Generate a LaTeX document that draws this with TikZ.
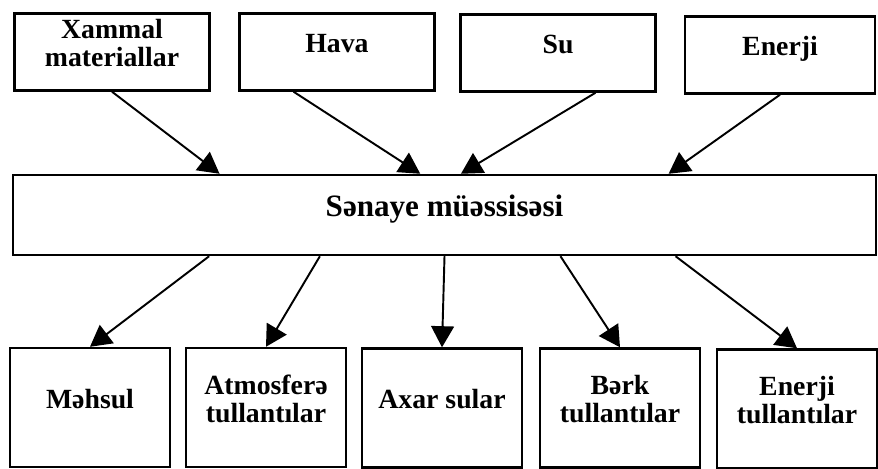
\documentclass[tikz,border=0pt]{standalone}
\usepackage{fontspec}
\setmainfont{Liberation Serif}
\usetikzlibrary{arrows.meta,calc}
\begin{document}
\begin{tikzpicture}[x=.02cm,y=-.02cm,
  box/.style={draw,line width=1.4pt,align=center,inner sep=2pt,
    font=\bfseries\fontsize{15.8}{16}\selectfont,
    execute at end node={\rule[-.36cm]{0pt}{0pt}}},
  inbox/.style={box,minimum width=3.9cm,minimum height=1.54cm},
  outbox/.style={box,minimum width=3.2cm,minimum height=2.38cm},
  arr/.style={line width=1.1pt,-{Triangle[length=12pt,width=13pt]}}]
\useasboundingbox (0,0) rectangle (878,469);

\node[inbox] (xammal) at (112,52){Xammal\\materiallar};
\node[inbox] (hava) at (337,52){Hava};
\node[inbox] (su) at (558,53){Su};
\node[inbox,minimum width=3.8cm] (enerji) at (780,55){Enerji};

\node[box,minimum width=17.26cm,minimum height=1.6cm,
  font=\bfseries\fontsize{17.7}{18}\selectfont] (sanaye) at (444.5,215){Sənaye müəssisəsi};

\node[outbox] (mehsul) at (90,407.5){Məhsul};
\node[outbox] (atmosfer) at (266,407.5){Atmosferə\\tullantılar};
\node[outbox] (axar) at (442,408){Axar sular};
\node[outbox] (berk) at (620,408){Bərk\\tullantılar};
\node[outbox] (enerjit) at (797,409){Enerji\\tullantılar};

\draw[arr] (xammal.south) -- ($(sanaye.north west)!.24!(sanaye.north east)$);
\draw[arr] ($(hava.south west)!.28!(hava.south east)$) -- ($(sanaye.north west)!.472!(sanaye.north east)$);
\draw[arr] ($(su.south west)!.69!(su.south east)$) -- ($(sanaye.north west)!.519!(sanaye.north east)$);
\draw[arr] (enerji.south) -- ($(sanaye.north west)!.759!(sanaye.north east)$);

\draw[arr] ($(sanaye.south west)!.228!(sanaye.south east)$) -- (mehsul.north);
\draw[arr] ($(sanaye.south west)!.356!(sanaye.south east)$) -- (atmosfer.north);
\draw[arr] (sanaye.south) -- (axar.north);
\draw[arr] ($(sanaye.south west)!.634!(sanaye.south east)$) -- (berk.north);
\draw[arr] ($(sanaye.south west)!.767!(sanaye.south east)$) -- (enerjit.north);

\end{tikzpicture}
\end{document}
